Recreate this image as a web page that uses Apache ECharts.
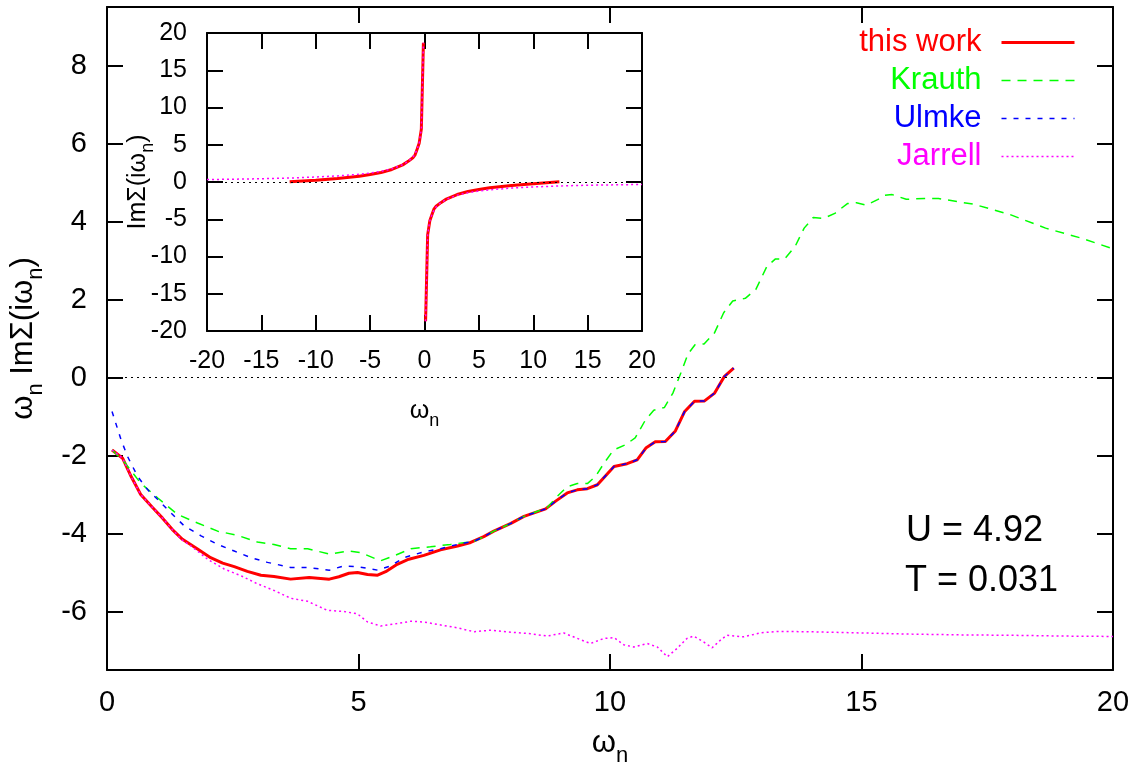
<!DOCTYPE html>
<html>
<head>
<meta charset="utf-8">
<script src="https://cdn.jsdelivr.net/npm/echarts@6/dist/echarts.min.js"></script>
<style>
  html, body { margin: 0; padding: 0; background: #fff; }
  #chart { width: 1143px; height: 772px; }
</style>
</head>
<body>
<div id="chart"></div>
<script>
var FONT = 'Liberation Sans, Arial, sans-serif';

// main panel: omega_n * Im Sigma(i omega_n)
var thisWork = [[0.1,-1.86],[0.31,-2.07],[0.48,-2.54],[0.67,-3.0],[0.91,-3.34],[1.1,-3.6],[1.3,-3.9],[1.5,-4.15],[1.8,-4.4],[2.06,-4.62],[2.3,-4.76],[2.53,-4.85],[2.79,-4.97],[3.06,-5.07],[3.32,-5.1],[3.65,-5.17],[4.02,-5.13],[4.42,-5.17],[4.61,-5.11],[4.81,-5.02],[4.98,-5.0],[5.18,-5.05],[5.38,-5.07],[5.54,-4.98],[5.77,-4.79],[6.0,-4.66],[6.3,-4.56],[6.63,-4.42],[6.97,-4.32],[7.23,-4.23],[7.49,-4.08],[7.69,-3.94],[8.03,-3.74],[8.29,-3.56],[8.72,-3.37],[8.92,-3.17],[9.15,-2.96],[9.35,-2.88],[9.55,-2.85],[9.75,-2.75],[10.08,-2.28],[10.34,-2.21],[10.54,-2.11],[10.72,-1.8],[10.9,-1.65],[11.1,-1.64],[11.3,-1.37],[11.48,-0.88],[11.68,-0.61],[11.88,-0.6],[12.08,-0.4],[12.27,0.02],[12.46,0.24]];

var krauth = [[0.1,-1.86],[0.34,-2.16],[0.67,-2.71],[1.01,-3.09],[1.4,-3.51],[1.8,-3.73],[2.2,-3.94],[2.6,-4.05],[2.99,-4.22],[3.32,-4.28],[3.65,-4.39],[3.99,-4.39],[4.42,-4.53],[4.81,-4.45],[5.04,-4.49],[5.44,-4.7],[5.71,-4.57],[6.04,-4.39],[6.43,-4.34],[6.83,-4.28],[7.3,-4.2],[7.49,-4.08],[7.69,-3.94],[8.03,-3.74],[8.29,-3.56],[8.75,-3.34],[8.95,-3.05],[9.15,-2.8],[9.35,-2.72],[9.55,-2.72],[9.71,-2.54],[9.88,-2.2],[10.07,-1.86],[10.3,-1.73],[10.5,-1.55],[10.7,-1.1],[10.87,-0.84],[11.08,-0.77],[11.25,-0.4],[11.41,0.12],[11.55,0.6],[11.69,0.84],[11.87,0.86],[12.08,1.15],[12.26,1.66],[12.44,1.96],[12.69,2.03],[12.9,2.26],[13.12,2.85],[13.29,3.04],[13.47,3.04],[13.68,3.36],[13.86,3.83],[14.04,4.1],[14.25,4.08],[14.47,4.21],[14.72,4.46],[14.9,4.48],[15.1,4.42],[15.32,4.56],[15.46,4.67],[15.61,4.69],[15.89,4.57],[16.25,4.59],[16.53,4.59],[17.24,4.44],[17.95,4.18],[18.66,3.83],[19.38,3.57],[20,3.3]];

var ulmke = [[0.1,-0.87],[0.28,-1.6],[0.41,-2.03],[0.61,-2.54],[0.81,-2.88],[1.01,-3.13],[1.27,-3.47],[1.54,-3.81],[1.87,-4.06],[2.2,-4.28],[2.53,-4.45],[2.86,-4.62],[3.19,-4.74],[3.65,-4.87],[3.99,-4.87],[4.42,-4.94],[4.71,-4.83],[4.98,-4.85],[5.38,-4.94],[5.64,-4.83],[5.9,-4.62],[6.3,-4.47],[6.63,-4.39],[6.97,-4.28],[7.3,-4.2],[7.49,-4.08],[7.69,-3.94],[8.03,-3.74],[8.29,-3.56],[8.72,-3.37],[8.92,-3.17],[9.15,-2.96],[9.35,-2.88],[9.55,-2.85],[9.75,-2.75],[10.08,-2.28],[10.34,-2.21],[10.54,-2.11],[10.72,-1.8],[10.9,-1.65],[11.1,-1.64],[11.3,-1.37],[11.48,-0.88],[11.68,-0.61],[11.88,-0.6],[12.08,-0.4],[12.27,0.02],[12.46,0.24]];

var jarrell = [[0.1,-1.86],[0.31,-2.07],[0.48,-2.54],[0.67,-3.0],[0.91,-3.34],[1.1,-3.6],[1.3,-3.9],[1.5,-4.17],[1.67,-4.32],[2.0,-4.66],[2.33,-4.91],[2.66,-5.08],[2.99,-5.29],[3.32,-5.46],[3.65,-5.66],[3.99,-5.74],[4.38,-5.97],[4.71,-6.0],[4.98,-6.06],[5.18,-6.27],[5.44,-6.37],[5.77,-6.31],[6.04,-6.25],[6.3,-6.27],[6.7,-6.36],[6.97,-6.42],[7.3,-6.52],[7.62,-6.48],[8.03,-6.53],[8.42,-6.57],[8.75,-6.63],[9.08,-6.55],[9.35,-6.69],[9.61,-6.82],[9.88,-6.69],[10.08,-6.67],[10.27,-6.85],[10.47,-6.91],[10.74,-6.82],[10.94,-6.91],[11.14,-7.16],[11.33,-6.95],[11.53,-6.69],[11.66,-6.63],[11.86,-6.78],[12.03,-6.93],[12.19,-6.74],[12.32,-6.61],[12.66,-6.65],[12.98,-6.55],[13.32,-6.51],[14,-6.52],[15,-6.55],[16,-6.58],[17,-6.6],[18,-6.61],[19,-6.63],[20,-6.64]];

// inset: Im Sigma(i omega_n), two branches each
var insetWorkNeg = [[-12.4,0.02],[-10,0.22],[-8,0.47],[-6,0.78],[-5,1.0],[-4,1.28],[-3,1.68],[-2,2.3],[-1.5,2.77],[-1.07,3.25],[-0.88,3.6],[-0.68,4.4],[-0.49,5.2],[-0.29,7.1],[-0.1,18.7]];
var insetWorkPos = [[0.1,-18.7],[0.29,-7.1],[0.49,-5.2],[0.68,-4.4],[0.88,-3.6],[1.07,-3.25],[1.5,-2.77],[2,-2.3],[3,-1.68],[4,-1.28],[5,-1.0],[6,-0.78],[8,-0.47],[10,-0.22],[12.4,0.02]];
var insetJarNeg = [[-20,0.33],[-18,0.37],[-16,0.41],[-14,0.47],[-12,0.55],[-10,0.67],[-8,0.82],[-6,1.04],[-5,1.21],[-4,1.43],[-3,1.76],[-2,2.33],[-1.5,2.78],[-1.1,3.27],[-0.9,3.7],[-0.68,4.4],[-0.49,5.2],[-0.29,7.1],[-0.1,18.7]];
var insetJarPos = [[0.1,-18.7],[0.29,-7.1],[0.49,-5.2],[0.68,-4.4],[0.9,-3.7],[1.1,-3.27],[1.5,-2.78],[2,-2.33],[3,-1.76],[4,-1.43],[5,-1.21],[6,-1.04],[8,-0.82],[10,-0.67],[12,-0.55],[14,-0.47],[16,-0.41],[18,-0.37],[20,-0.33]];

var mainYTicks = [-6, -4, -2, 0, 2, 4, 6, 8];
var legendNames = ['this work', 'Krauth', 'Ulmke', 'Jarrell'];
var colors = ['#ff0000', '#00ff00', '#0000ff', '#ff00ff'];

var chart = echarts.init(document.getElementById('chart'));

var axisLine = { show: true, onZero: false, lineStyle: { color: '#000', width: 2 } };
var tick = { show: true, inside: true, length: 16, lineStyle: { color: '#000', width: 2 } };

function xAx(grid, pos, min, max, iv, fs, showLabel) {
    return {
        type: 'value', gridIndex: grid, position: pos, min: min, max: max, interval: iv,
        axisLine: axisLine, axisTick: tick, splitLine: { show: false },
        axisLabel: { show: showLabel, color: '#000', fontSize: fs, fontFamily: FONT, margin: 18 }
    };
}
function yAx(grid, pos, min, max, iv, fs, showLabel, custom) {
    var a = {
        type: 'value', gridIndex: grid, position: pos, min: min, max: max,
        axisLine: axisLine, axisTick: Object.assign({}, tick), splitLine: { show: false },
        axisLabel: { show: showLabel, color: '#000', fontSize: fs, fontFamily: FONT, margin: 20 }
    };
    if (custom) {
        a.axisTick.customValues = custom;
        a.axisLabel.customValues = custom;
    } else {
        a.interval = iv;
    }
    return a;
}

function sub(big, small, pad) {
    return {
        w: { fontSize: big, fontFamily: FONT, color: '#000', verticalAlign: 'bottom', padding: [0, 0, pad, 0] },
        s: { fontSize: small, fontFamily: FONT, color: '#000', verticalAlign: 'bottom' }
    };
}

var xAxes = [
    xAx(0, 'bottom', 0, 20, 5, 29, true),
    xAx(0, 'top', 0, 20, 5, 29, false),
    xAx(1, 'bottom', -20, 20, 5, 25, true),
    xAx(1, 'top', -20, 20, 5, 25, false)
];
xAxes[0].name = '{w|ω}{s|n}';
xAxes[0].nameLocation = 'middle';
xAxes[0].nameGap = 58;
xAxes[0].nameTextStyle = { rich: sub(31, 22, 8) };
xAxes[2].name = '{w|ω}{s|n}';
xAxes[2].nameLocation = 'middle';
xAxes[2].nameGap = 68;
xAxes[2].nameTextStyle = { rich: sub(25, 18, 6) };

var yAxes = [
    yAx(0, 'left', -7.5, 9.5, null, 29, true, mainYTicks),
    yAx(0, 'right', -7.5, 9.5, null, 29, false, mainYTicks),
    yAx(1, 'left', -20, 20, 5, 25, true, null),
    yAx(1, 'right', -20, 20, 5, 25, false, null)
];
yAxes[0].name = '{w|ω}{s|n}{w| ImΣ(iω}{s|n}{w|)}';
yAxes[0].nameLocation = 'middle';
yAxes[0].nameGap = 60;
yAxes[0].nameTextStyle = { rich: sub(31, 22, 8) };
yAxes[2].name = '{w|ImΣ(iω}{s|n}{w|)}';
yAxes[2].nameLocation = 'middle';
yAxes[2].nameGap = 50;
yAxes[2].nameMoveOverlap = false;
yAxes[2].nameTextStyle = { rich: sub(25, 18, 6) };

var zeroLine = {
    silent: true, symbol: ['none', 'none'],
    label: { show: false },
    lineStyle: { color: '#000', type: [2, 4], width: 1 },
    data: [{ yAxis: 0 }]
};

function line(name, data, xi, yi, color, width, dash, extra) {
    var s = {
        type: 'line', name: name, data: data, xAxisIndex: xi, yAxisIndex: yi,
        symbol: 'none', showSymbol: false, smooth: false,
        lineStyle: { color: color, width: width, type: dash },
        itemStyle: { color: color }
    };
    return Object.assign(s, extra || {});
}

var option = {
    animation: false,
    backgroundColor: '#fff',
    grid: [
        { left: 106, right: 30, top: 7, bottom: 97 },
        { left: 207, right: 501, top: 33, bottom: 441 }
    ],
    xAxis: xAxes,
    yAxis: yAxes,
    legend: {
        data: legendNames.map(function (n, i) {
            return { name: n, textStyle: { color: colors[i] }, lineStyle: { width: i === 0 ? 3 : 1.5 } };
        }),
        orient: 'vertical', align: 'right',
        right: 67, top: 27, padding: 0,
        itemWidth: 73, itemHeight: 14, itemGap: 7,
        selectedMode: false,
        itemStyle: { opacity: 0 },
        textStyle: { fontSize: 31, fontFamily: FONT, padding: [0, 15, 0, 0] }
    },
    series: [
        line('this work', thisWork, 0, 0, colors[0], 3, 'solid', { markLine: zeroLine }),
        line('Krauth', krauth, 0, 0, colors[1], 1.5, [9, 7]),
        line('Ulmke', ulmke, 0, 0, colors[2], 1.5, [5, 7]),
        line('Jarrell', jarrell, 0, 0, colors[3], 1.5, [2, 3]),
        line('inset work -', insetWorkNeg, 2, 2, colors[0], 3, 'solid', { markLine: zeroLine }),
        line('inset work +', insetWorkPos, 2, 2, colors[0], 3, 'solid'),
        line('inset Jarrell -', insetJarNeg, 2, 2, colors[3], 1.5, [2, 3]),
        line('inset Jarrell +', insetJarPos, 2, 2, colors[3], 1.5, [2, 3])
    ],
    graphic: [
        { type: 'text', x: 906, y: 531, style: { text: 'U = 4.92', font: '36px ' + FONT, fill: '#000', verticalAlign: 'middle' } },
        { type: 'text', x: 905, y: 581, style: { text: 'T = 0.031', font: '36px ' + FONT, fill: '#000', verticalAlign: 'middle' } }
    ]
};

chart.setOption(option);
</script>
</body>
</html>
